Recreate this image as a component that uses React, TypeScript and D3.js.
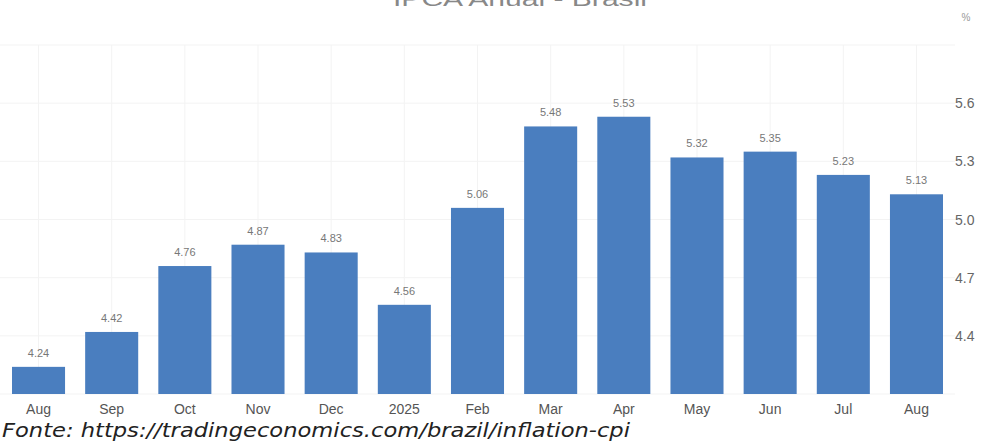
import React from "react";
import * as d3 from "d3";

const categories = ["Aug", "Sep", "Oct", "Nov", "Dec", "2025", "Feb", "Mar", "Apr", "May", "Jun", "Jul", "Aug"];
const values = [4.24, 4.42, 4.76, 4.87, 4.83, 4.56, 5.06, 5.48, 5.53, 5.32, 5.35, 5.23, 5.13];
const yTicks = [4.4, 4.7, 5.0, 5.3, 5.6];
const gridTicks = [4.1, 4.4, 4.7, 5.0, 5.3, 5.6, 5.9];
const title = "IPCA Anual - Brasil";
const source = "Fonte: https://tradingeconomics.com/brazil/inflation-cpi";

const W = 985;
const H = 444;

export default function App() {
  const x = d3
    .scaleBand<number>()
    .domain(categories.map((_, i) => i))
    .range([0, 955])
    .paddingInner(0.275)
    .paddingOuter(0.164);
  const y = d3.scaleLinear().domain([4.1, 5.9]).range([394, 45]);
  const fmt = d3.format(".2f");
  const tfmt = d3.format(".1f");

  return (
    <svg
      width={W}
      height={H}
      style={{ position: "absolute", left: 0, top: 0, background: "#fff" }}
      fontFamily="'Liberation Sans', Arial, sans-serif"
    >
      <text x={520} y={6} textAnchor="middle" fontSize={20} fill="#888" textLength={254} lengthAdjust="spacingAndGlyphs">
        {title}
      </text>
      <text x={966} y={21} fontSize={10} fill="#999" textAnchor="middle">
        %
      </text>
      {gridTicks.map((t) => (
        <line key={"g" + t} x1={0} x2={955} y1={y(t)} y2={y(t)} stroke="#f3f3f3" strokeWidth={1} />
      ))}
      {categories.map((_, i) => {
        const cx = (x(i) as number) + x.bandwidth() / 2;
        return <line key={"v" + i} x1={cx} x2={cx} y1={y(5.9)} y2={y(4.1)} stroke="#f3f3f3" strokeWidth={1} />;
      })}
      {values.map((v, i) => (
        <rect
          key={"b" + i}
          x={x(i)}
          y={y(v)}
          width={x.bandwidth()}
          height={y(4.1) - y(v)}
          fill="#4a7ebf"
        />
      ))}
      {values.map((v, i) => (
        <text
          key={"l" + i}
          x={(x(i) as number) + x.bandwidth() / 2}
          y={y(v) - 10}
          textAnchor="middle"
          fontSize={11}
          fill="#777"
        >
          {fmt(v)}
        </text>
      ))}
      {yTicks.map((t) => (
        <text key={"t" + t} x={955} y={y(t) + 5} fontSize={14} fill="#666">
          {tfmt(t)}
        </text>
      ))}
      {categories.map((c, i) => (
        <text
          key={"c" + i}
          x={(x(i) as number) + x.bandwidth() / 2}
          y={414}
          textAnchor="middle"
          fontSize={14}
          fill="#555"
        >
          {c}
        </text>
      ))}
      <text
        x={2}
        y={437}
        fontSize={19}
        fontStyle="italic"
        fontFamily="'DejaVu Sans', Verdana, sans-serif"
        fill="#222"
        textLength={628}
        lengthAdjust="spacingAndGlyphs"
      >
        {source}
      </text>
    </svg>
  );
}
